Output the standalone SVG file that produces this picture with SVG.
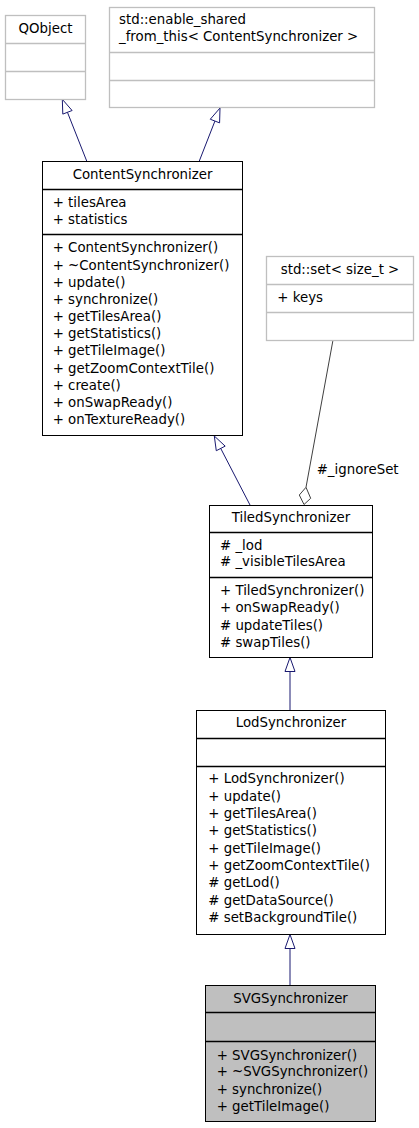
<svg xmlns="http://www.w3.org/2000/svg" width="419" height="1128" viewBox="0 0 419 1128">
<style>
text{font-family:"DejaVu Sans","Liberation Sans",sans-serif;font-size:13.33px;fill:#000}
.t{text-anchor:middle}
.box{fill:#fff;stroke:#000;stroke-width:1}
.gbox{fill:#fff;stroke:#bfbfbf;stroke-width:1.3}
.sel{fill:#bfbfbf;stroke:#000;stroke-width:1}
.div{stroke:#000;stroke-width:1.3}
.gdiv{stroke:#bfbfbf;stroke-width:1.3}
.inh{stroke:#191970;stroke-width:1;fill:none}
.head{fill:#fff;stroke:#191970;stroke-width:1}
.agg{stroke:#404040;stroke-width:1;fill:none}
.dia{fill:#fff;stroke:#404040;stroke-width:1}
</style>
<g id="connectors">
<line class="inh" x1="86.7" y1="161" x2="67.45" y2="112.3"/>
<polygon class="head" points="62.3,99.3 72.1,110.5 62.8,114.1"/>
<line class="inh" x1="199.3" y1="161" x2="214.93" y2="121.05"/>
<polygon class="head" points="220,108 219.59,122.86 210.27,119.24"/>
<line class="inh" x1="250" y1="505" x2="220.73" y2="448.43"/>
<polygon class="head" points="214.3,436 225.17,446.13 216.29,450.73"/>
<line class="agg" x1="333" y1="340" x2="306" y2="487.3"/>
<polygon class="dia" points="306,487.3 299.3,495 304,504.5 310.7,498.3"/>
<text x="316.7" y="473.5">#_ignoreSet</text>
<line class="inh" x1="290" y1="710" x2="290" y2="671.5"/>
<polygon class="head" points="290,657.5 295,671.5 285,671.5"/>
<line class="inh" x1="290" y1="985" x2="290" y2="948.5"/>
<polygon class="head" points="290,934.5 295,948.5 285,948.5"/>
</g>
<g id="QObject">
<rect class="gbox" x="5.5" y="15.5" width="80" height="84"/>
<line class="gdiv" x1="5.5" y1="43.5" x2="85.5" y2="43.5"/>
<line class="gdiv" x1="5.5" y1="71.5" x2="85.5" y2="71.5"/>
<text class="t" x="45.5" y="32.7">QObject</text>
</g>
<g id="enable_shared_from_this">
<rect class="gbox" x="109.5" y="7.5" width="265" height="100"/>
<line class="gdiv" x1="109.5" y1="52.5" x2="374.5" y2="52.5"/>
<line class="gdiv" x1="109.5" y1="80.5" x2="374.5" y2="80.5"/>
<text x="119" y="23.7">std::enable_shared</text>
<text x="119" y="40.7">_from_this&lt; ContentSynchronizer &gt;</text>
</g>
<g id="ContentSynchronizer">
<rect class="box" x="42.5" y="161.5" width="200" height="274"/>
<line class="div" x1="42.5" y1="189.5" x2="242.5" y2="189.5"/>
<line class="div" x1="42.5" y1="234.5" x2="242.5" y2="234.5"/>
<text class="t" x="142.5" y="178.7">ContentSynchronizer</text>
<text x="52.7" y="207">+ tilesArea</text>
<text x="52.7" y="223.7">+ statistics</text>
<text x="52.7" y="252.4">+ ContentSynchronizer()</text>
<text x="52.7" y="269.56">+ ~ContentSynchronizer()</text>
<text x="52.7" y="286.72">+ update()</text>
<text x="52.7" y="303.88">+ synchronize()</text>
<text x="52.7" y="321.04">+ getTilesArea()</text>
<text x="52.7" y="338.2">+ getStatistics()</text>
<text x="52.7" y="355.36">+ getTileImage()</text>
<text x="52.7" y="372.52">+ getZoomContextTile()</text>
<text x="52.7" y="389.68">+ create()</text>
<text x="52.7" y="406.84">+ onSwapReady()</text>
<text x="52.7" y="424">+ onTextureReady()</text>
</g>
<g id="std_set">
<rect class="gbox" x="266.5" y="256.5" width="147" height="84"/>
<line class="gdiv" x1="266.5" y1="284.5" x2="413.5" y2="284.5"/>
<line class="gdiv" x1="266.5" y1="312.5" x2="413.5" y2="312.5"/>
<text class="t" x="340" y="274">std::set&lt; size_t &gt;</text>
<text x="277.3" y="302">+ keys</text>
</g>
<g id="TiledSynchronizer">
<rect class="box" x="209.5" y="505.5" width="163" height="152"/>
<line class="div" x1="209.5" y1="532.5" x2="372.5" y2="532.5"/>
<line class="div" x1="209.5" y1="577.5" x2="372.5" y2="577.5"/>
<text class="t" x="291" y="522.4">TiledSynchronizer</text>
<text x="220" y="549.7"># _lod</text>
<text x="220" y="566.4"># _visibleTilesArea</text>
<text x="220" y="594.7">+ TiledSynchronizer()</text>
<text x="220" y="612.4">+ onSwapReady()</text>
<text x="220" y="629.7"># updateTiles()</text>
<text x="220" y="647"># swapTiles()</text>
</g>
<g id="LodSynchronizer">
<rect class="box" x="196.5" y="710.5" width="189" height="224"/>
<line class="div" x1="196.5" y1="738.5" x2="385.5" y2="738.5"/>
<line class="div" x1="196.5" y1="766.5" x2="385.5" y2="766.5"/>
<text class="t" x="291" y="727">LodSynchronizer</text>
<text x="208.3" y="783">+ LodSynchronizer()</text>
<text x="208.3" y="800.7">+ update()</text>
<text x="208.3" y="818">+ getTilesArea()</text>
<text x="208.3" y="835.4">+ getStatistics()</text>
<text x="208.3" y="852.8">+ getTileImage()</text>
<text x="208.3" y="870.2">+ getZoomContextTile()</text>
<text x="208.3" y="887.4"># getLod()</text>
<text x="208.3" y="904.7"># getDataSource()</text>
<text x="208.3" y="922"># setBackgroundTile()</text>
</g>
<g id="SVGSynchronizer">
<rect class="sel" x="205.5" y="985.5" width="170" height="136"/>
<line class="div" x1="205.5" y1="1012.5" x2="375.5" y2="1012.5"/>
<line class="div" x1="205.5" y1="1041.5" x2="375.5" y2="1041.5"/>
<text class="t" x="290.5" y="1003">SVGSynchronizer</text>
<text x="216.7" y="1059.7">+ SVGSynchronizer()</text>
<text x="216.7" y="1076.4">+ ~SVGSynchronizer()</text>
<text x="216.7" y="1094">+ synchronize()</text>
<text x="216.7" y="1111.4">+ getTileImage()</text>
</g>
</svg>
